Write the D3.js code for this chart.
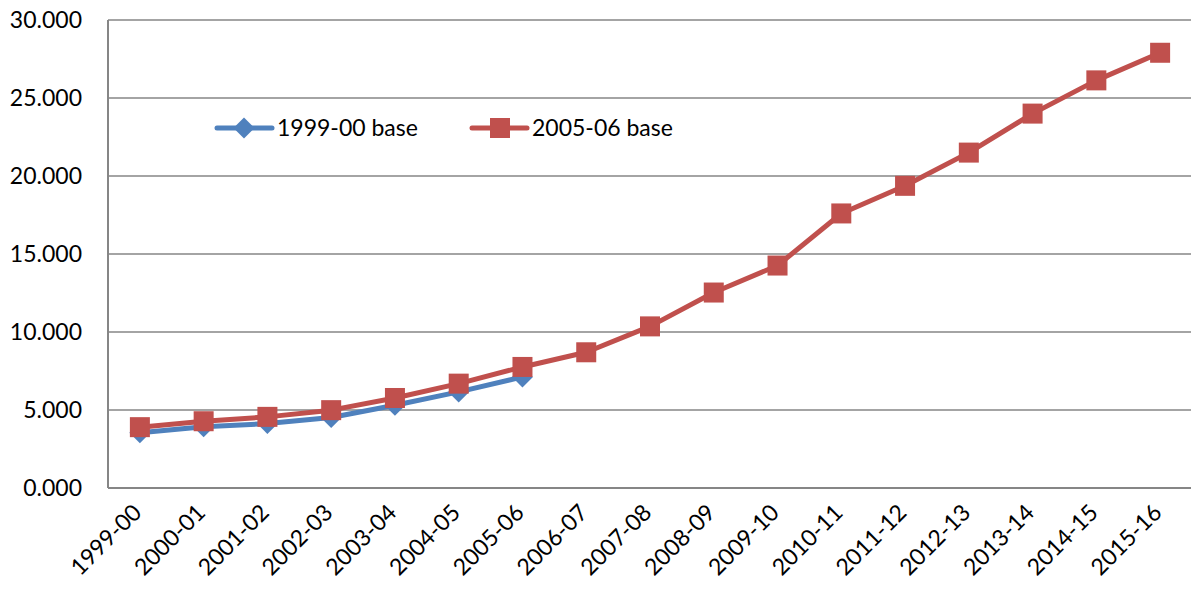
<!DOCTYPE html>
<html>
<head>
<meta charset="utf-8">
<script src="https://cdn.jsdelivr.net/npm/d3@7"></script>
<style>
  body { margin: 0; background: #fff; }
  text { font-family: Lato, "Open Sans", sans-serif; fill: #000; }
</style>
</head>
<body>
<script>
var years = ["1999-00", "2000-01", "2001-02", "2002-03", "2003-04", "2004-05", "2005-06",
             "2006-07", "2007-08", "2008-09", "2009-10", "2010-11", "2011-12", "2012-13",
             "2013-14", "2014-15", "2015-16"];
var base1999 = [3.54, 3.92, 4.13, 4.52, 5.30, 6.16, 7.12];
var base2005 = [3.90, 4.28, 4.56, 4.99, 5.77, 6.69, 7.76, 8.70, 10.36, 12.53, 14.26,
                17.60, 19.37, 21.50, 24.00, 26.13, 27.90];
var yTicks = [0, 5, 10, 15, 20, 25, 30];

var width = 1191, height = 603,
    plotLeft = 108, plotRight = 1192, plotTop = 20, plotBottom = 488,
    blue = "#4F81BD", red = "#C0504D";

var svg = d3.select("body").append("svg")
    .attr("width", width)
    .attr("height", height);

var x = d3.scaleBand().domain(years).range([plotLeft, plotRight]);
var y = d3.scaleLinear().domain([0, 30]).range([plotBottom, plotTop]);

// gridlines
svg.append("g").selectAll("line")
    .data(yTicks.filter(function(d) { return d > 0; }))
  .enter().append("line")
    .attr("x1", plotLeft).attr("x2", plotRight)
    .attr("y1", function(d) { return y(d); })
    .attr("y2", function(d) { return y(d); })
    .style("stroke", "#868686")
    .style("stroke-width", 1.5);

// axes lines
svg.append("line")
    .attr("x1", plotLeft).attr("x2", plotLeft).attr("y1", plotTop).attr("y2", plotBottom)
    .style("stroke", "#868686").style("stroke-width", 2);
svg.append("line")
    .attr("x1", plotLeft).attr("x2", plotRight).attr("y1", plotBottom).attr("y2", plotBottom)
    .style("stroke", "#868686").style("stroke-width", 2);

// y labels
svg.append("g").selectAll("text")
    .data(yTicks)
  .enter().append("text")
    .attr("x", 82)
    .attr("y", function(d) { return y(d); })
    .attr("dy", "0.35em")
    .attr("text-anchor", "end")
    .style("font-size", "23px")
    .text(function(d) { return d3.format(".3f")(d); });

// x labels, rotated
svg.append("g").selectAll("text")
    .data(years)
  .enter().append("text")
    .attr("text-anchor", "end")
    .attr("transform", function(d) {
        return "translate(" + (x(d) + x.bandwidth() / 2 + 3) + "," + 514 + ") rotate(-45)";
    })
    .style("font-size", "23px")
    .text(function(d) { return d; });

var line = d3.line()
    .x(function(d, i) { return x(years[i]) + x.bandwidth() / 2; })
    .y(function(d) { return y(d); });

var diamond = d3.symbol().type(d3.symbolDiamond2).size(280);

function drawSeries(data, color, shape) {
    svg.append("path")
        .datum(data)
        .attr("d", line)
        .style("fill", "none")
        .style("stroke", color)
        .style("stroke-width", 5)
        .style("stroke-linejoin", "round");
    var pts = svg.append("g").selectAll(".pt")
        .data(data)
      .enter();
    if (shape == "square") {
        pts.append("rect")
            .attr("x", function(d, i) { return x(years[i]) + x.bandwidth() / 2 - 10; })
            .attr("y", function(d) { return y(d) - 10; })
            .attr("width", 20).attr("height", 20)
            .style("fill", color);
    } else {
        pts.append("path")
            .attr("d", diamond)
            .attr("transform", function(d, i) {
                return "translate(" + (x(years[i]) + x.bandwidth() / 2) + "," + y(d) + ")";
            })
            .style("fill", color);
    }
}

drawSeries(base1999, blue, "diamond");
drawSeries(base2005, red, "square");

// legend
var legend = [{name: "1999-00 base", color: blue, shape: "diamond", x: 217},
              {name: "2005-06 base", color: red, shape: "square", x: 472}];
var lg = svg.append("g").selectAll("g")
    .data(legend)
  .enter().append("g")
    .attr("transform", function(d) { return "translate(" + d.x + ",128)"; });
lg.append("line")
    .attr("x1", 0).attr("x2", 55)
    .style("stroke", function(d) { return d.color; })
    .style("stroke-width", 5)
    .style("stroke-linecap", "round");
lg.each(function(d) {
    if (d.shape == "square") {
        d3.select(this).append("rect")
            .attr("x", 18).attr("y", -10).attr("width", 20).attr("height", 20)
            .style("fill", d.color);
    } else {
        d3.select(this).append("path")
            .attr("d", diamond)
            .attr("transform", "translate(27,0)")
            .style("fill", d.color);
    }
});
lg.append("text")
    .attr("x", 60)
    .attr("dy", "0.35em")
    .style("font-size", "23px")
    .text(function(d) { return d.name; });
</script>
</body>
</html>
